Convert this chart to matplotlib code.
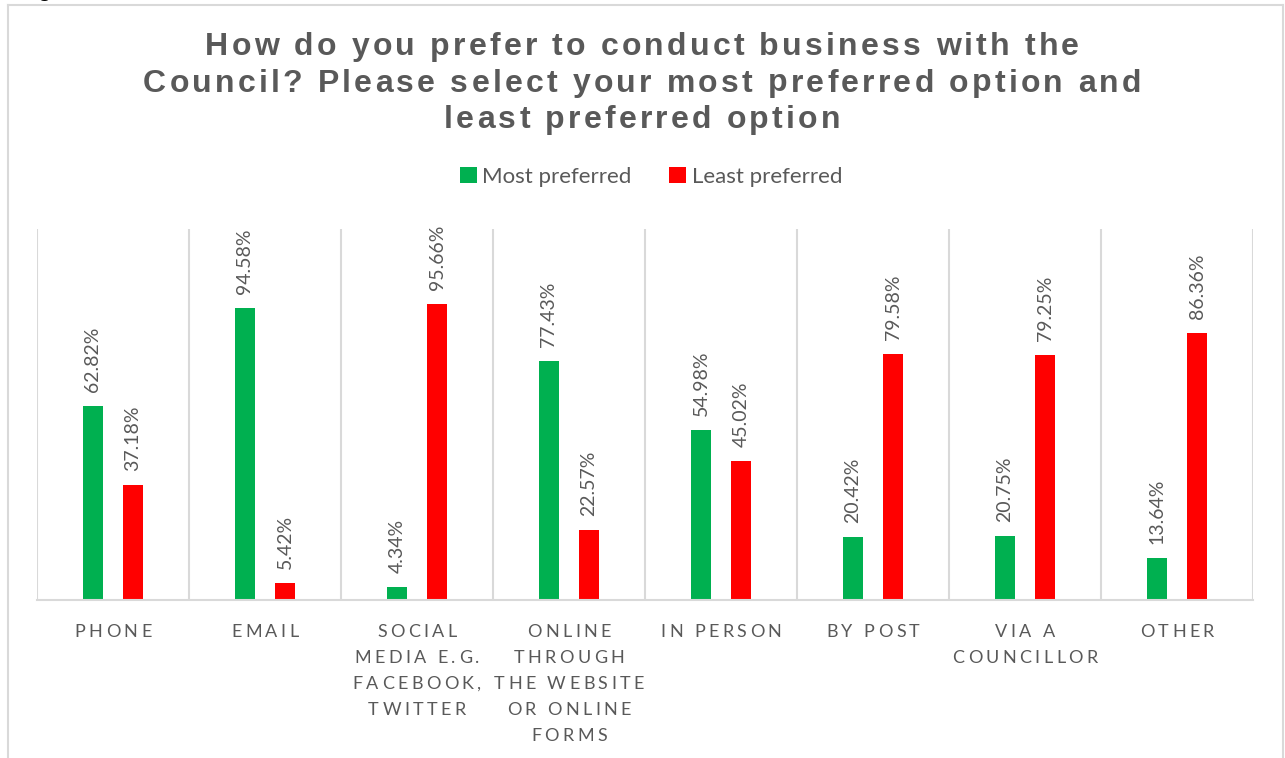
import numpy as np
import matplotlib
matplotlib.use("Agg")
import matplotlib.pyplot as plt
from matplotlib.lines import Line2D
from matplotlib.font_manager import FontProperties

plt.rcParams['font.family'] = ['Lato', 'DejaVu Sans']

categories = ['PHONE', 'EMAIL', 'SOCIAL\nMEDIA E.G.\nFACEBOOK,\nTWITTER',
              'ONLINE\nTHROUGH\nTHE WEBSITE\nOR ONLINE\nFORMS',
              'IN PERSON', 'BY POST', 'VIA A\nCOUNCILLOR', 'OTHER']
most_preferred = [62.82, 94.58, 4.34, 77.43, 54.98, 20.42, 20.75, 13.64]
least_preferred = [37.18, 5.42, 95.66, 22.57, 45.02, 79.58, 79.25, 86.36]

title_lines = ['How do you prefer to conduct business with the',
               'Council? Please select your most preferred option and',
               'least preferred option']

GREEN = '#00B050'
RED = '#FF0000'
GREY = '#595959'
LINE = '#D9D9D9'
W, H = 1285, 758

fig = plt.figure(figsize=(W / 100, H / 100), dpi=100)
renderer = fig.canvas.get_renderer()


def tracked_text(cx, y0, text, prop, track, pitch, color):
    # draws text with extra spacing between characters (like Excel's character spacing)
    # cx, y0 : centre x and first baseline y, in pixels from top-left
    for i, line in enumerate(text.split('\n')):
        widths = [renderer.get_text_width_height_descent(ch if ch != ' ' else '\u00a0', prop, ismath=False)[0]
                  for ch in line]
        total = sum(widths) + track * (len(line) - 1)
        xx = cx - total / 2
        y = y0 + i * pitch
        for ch, w in zip(line, widths):
            if ch != ' ':
                fig.text(xx / W, 1 - y / H, ch, fontproperties=prop, color=color,
                         ha='left', va='baseline')
            xx += w + track


ax = fig.add_axes([37 / W, 1 - 600 / H, (1253 - 37) / W, (600 - 229) / H])

x = np.arange(len(categories))
bw = 0.132
ax.bar(x - bw, np.array(most_preferred) / 100, bw, color=GREEN, label='Most preferred')
ax.bar(x + bw, np.array(least_preferred) / 100, bw, color=RED, label='Least preferred')

for xi, v in zip(x - bw, most_preferred):
    ax.annotate('%.2f%%' % v, (xi, v / 100), xytext=(0, 10), textcoords='offset points',
                rotation=90, ha='center', va='bottom', color=GREY, fontsize=14)
for xi, v in zip(x + bw, least_preferred):
    ax.annotate('%.2f%%' % v, (xi, v / 100), xytext=(0, 10), textcoords='offset points',
                rotation=90, ha='center', va='bottom', color=GREY, fontsize=14)

ax.set_xlim(-0.5, len(categories) - 0.5)
ax.set_ylim(0, 1.2)
for b in np.arange(-0.5, len(categories), 1.0):
    ax.axvline(b, color=LINE, lw=1.5, zorder=0)
for s in ['top', 'right', 'left']:
    ax.spines[s].set_visible(False)
ax.spines['bottom'].set_color(LINE)
ax.spines['bottom'].set_linewidth(1.5)
ax.set_yticks([])
ax.set_xticks([])

# category labels under the axis
label_prop = FontProperties(family=['Lato', 'DejaVu Sans'], size=13)
for i, c in enumerate(categories):
    cx = 37 + (i + 0.5) * (1253 - 37) / len(categories)
    tracked_text(cx, 637, c, label_prop, 3.4, 26, GREY)

leg = fig.legend(loc='center', bbox_to_anchor=(651 / W, 1 - 177 / H), ncol=2, frameon=False,
                 fontsize=16, handlelength=0.75, handleheight=0.75, handletextpad=0.25,
                 columnspacing=1.7, labelcolor=GREY)

title_prop = FontProperties(family=['Liberation Sans', 'DejaVu Sans'], size=23, weight='bold')
tracked_text(642, 55, '\n'.join(title_lines), title_prop, 3.2, 36.5, GREY)

# chart frame
fl, fr, ft = 8 / W, 1283 / W, 1 - 5 / H
fig.add_artist(Line2D([fl, fl], [0, ft], color=LINE, lw=1.5))
fig.add_artist(Line2D([fr, fr], [0, ft], color=LINE, lw=1.5))
fig.add_artist(Line2D([fl, fr], [ft, ft], color=LINE, lw=1.5))

# descender of a heading cut off above the chart
fig.text(37 / W, 1 + 4 / H, 'g', fontsize=16, fontweight='bold', color='black',
         family=['Liberation Sans'], va='baseline')

fig.savefig('out.png', dpi=100)
